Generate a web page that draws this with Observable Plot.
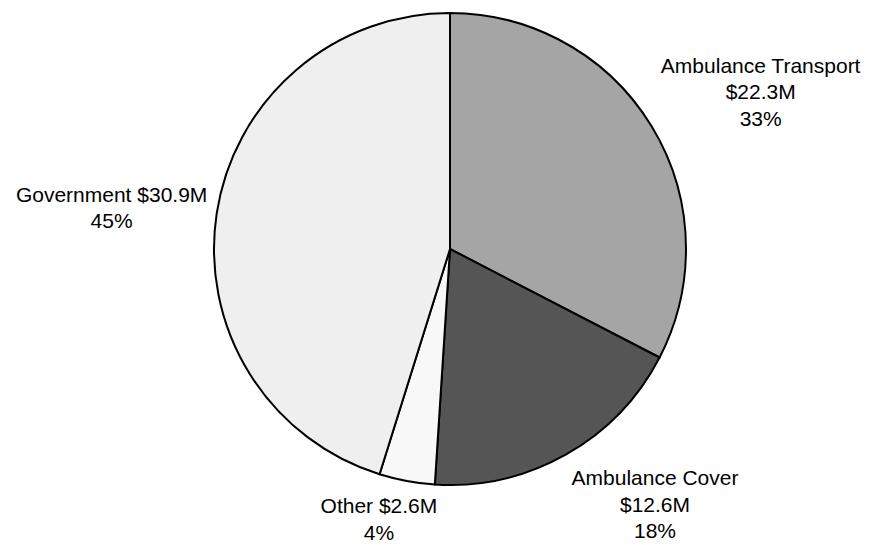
<!DOCTYPE html>
<html>
<head>
<meta charset="utf-8">
<script src="https://cdn.jsdelivr.net/npm/d3@7"></script>
<script src="https://cdn.jsdelivr.net/npm/@observablehq/plot@0.6"></script>
<style>
  html, body { margin: 0; padding: 0; background: #fff; }
  #chart { position: absolute; left: 0; top: 0; }
</style>
</head>
<body>
<div id="chart"></div>
<script>
// Revenue sources, in millions of dollars, in clockwise order from 12 o'clock
const categories = ["Ambulance Transport", "Ambulance Cover", "Other", "Government"];
const amounts = [22.3, 12.6, 2.6, 30.9];
const sliceColors = ["#a5a5a5", "#555555", "#f8f8f8", "#efefef"];

// Page and pie geometry (pixels)
const width = 869, height = 545;
const cx = 450, cy = 249, radius = 236;
const fontFamily = "'Liberation Sans', Arial, sans-serif";
const fontSize = 21, lineHeight = 1.26;
const labelGap = 10;

const total = d3.sum(amounts);
const data = categories.map((name, i) => ({name, amount: amounts[i]}));
const arcs = d3.pie().sort(null).value(d => d.amount)(data);

const color = Plot.scale({color: {type: "ordinal", domain: categories, range: sliceColors}});

// Label text: multi-word names get their own line
const money = v => `$${v.toFixed(1)}M`;
const pct = v => `${Math.round(v / total * 100)}%`;
function labelLines(d) {
  return d.name.includes(" ")
    ? [d.name, money(d.amount), pct(d.amount)]
    : [`${d.name} ${money(d.amount)}`, pct(d.amount)];
}

// Measure text so each label box can sit just outside the rim
const ctx = document.createElement("canvas").getContext("2d");
ctx.font = `${fontSize}px ${fontFamily}`;
const clamp = t => Math.max(-1, Math.min(1, t));

const labels = arcs.map(a => {
  const lines = labelLines(a.data);
  const w = d3.max(lines, l => ctx.measureText(l).width) / radius;
  const h = lines.length * fontSize * lineHeight / radius;
  const mid = (a.startAngle + a.endAngle) / 2;
  const ux = Math.sin(mid), uy = Math.cos(mid); // data units, y up
  const g = labelGap / radius;
  return {
    text: lines.join("\n"),
    x: ux * (1 + g) + (w / 2) * clamp(2.5 * ux),
    y: uy * (1 + g) + (h / 2) * clamp(1.5 * uy)
  };
});

// Pie slices drawn in the plot's x/y coordinate frame
function pieMark(index, scales) {
  const x0 = scales.x(0), y0 = scales.y(0);
  const r = scales.x(1) - x0;
  const arc = d3.arc().innerRadius(0).outerRadius(r);
  const g = d3.create("svg:g").attr("transform", `translate(${x0},${y0})`);
  g.selectAll("path")
    .data(arcs)
    .join("path")
    .attr("d", arc)
    .attr("fill", d => color.apply(d.data.name))
    .attr("stroke", "#000")
    .attr("stroke-width", 2);
  return g.node();
}

const chart = Plot.plot({
  width,
  height,
  margin: 0,
  style: {background: "#fff", fontFamily},
  x: {domain: [-1, 1], range: [cx - radius, cx + radius], axis: null},
  y: {domain: [-1, 1], range: [cy + radius, cy - radius], axis: null},
  marks: [
    pieMark,
    Plot.text(labels, {
      x: "x",
      y: "y",
      text: "text",
      fontSize,
      lineHeight,
      fontFamily,
      fill: "#000",
      textAnchor: "middle"
    })
  ]
});

document.getElementById("chart").appendChild(chart);
</script>
</body>
</html>
